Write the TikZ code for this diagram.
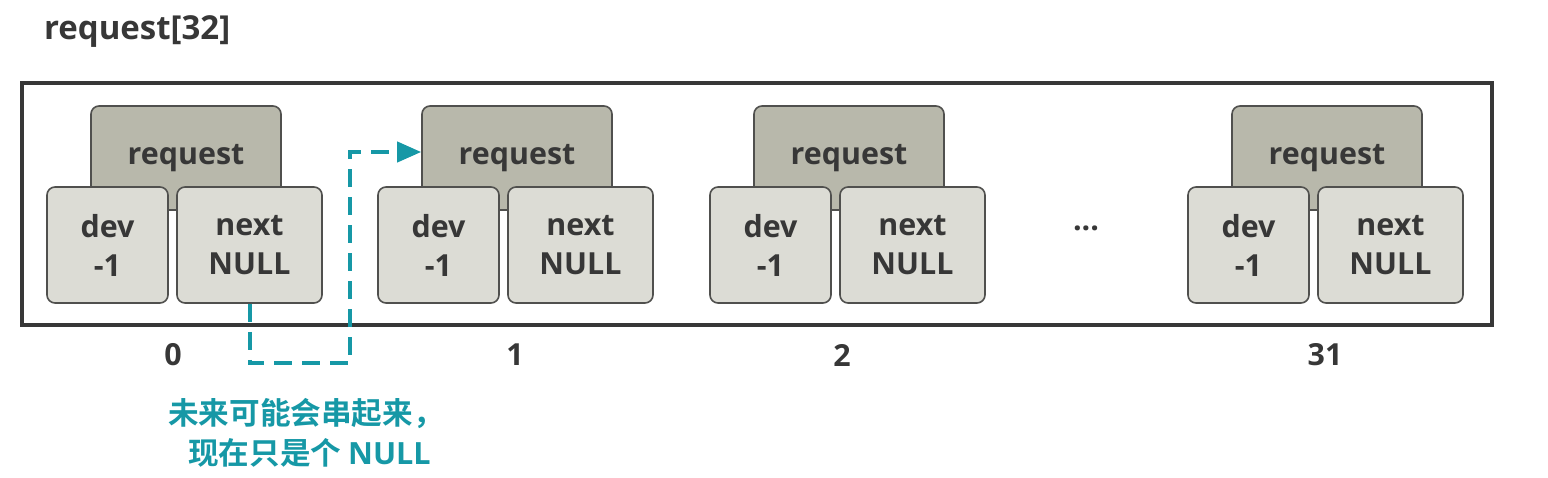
\documentclass[tikz,border=0pt]{standalone}
\usepackage{fontspec}
\setmainfont{Open Sans}[BoldFont={* Bold}]
\newfontfamily\cjkfont{Noto Sans CJK SC}[BoldFont={* Bold}]
\usepackage{xcolor}
\usetikzlibrary{arrows.meta,positioning,calc}

\definecolor{headfill}{RGB}{184,184,171}
\definecolor{cellfill}{RGB}{220,220,213}
\definecolor{edgegray}{RGB}{80,80,78}
\definecolor{inkgray}{RGB}{55,55,55}
\definecolor{teal}{RGB}{22,152,166}

\begin{document}
\begin{tikzpicture}[
    x=0.5pt, y=-0.5pt,
    font=\bfseries\fontsize{15.2}{19.5}\selectfont,
    frame/.style={rectangle, draw=inkgray, line width=2pt, minimum width=735pt, minimum height=121pt, inner sep=0pt},
    head/.style={rectangle, rounded corners=4pt, draw=edgegray, fill=headfill, line width=0.8pt, minimum width=95pt, minimum height=52pt, text=inkgray},
    devcell/.style={rectangle, rounded corners=4pt, draw=edgegray, fill=cellfill, line width=0.8pt, minimum width=60.5pt, minimum height=58pt, align=center, text=inkgray},
    nextcell/.style={devcell, minimum width=72.5pt},
    index/.style={text=inkgray},
    link/.style={-{Triangle[length=12pt,width=10pt]}, draw=teal, line width=2pt, dash pattern=on 9pt off 5pt}
]
\useasboundingbox (0,0) rectangle (1548,477);

\node[anchor=west, text=inkgray, font=\bfseries\fontsize{16.5}{20}\selectfont] (title) at (37,32) {request[32]};

% Array frame
\node[frame] (array) at (757,204) {};

% Element 0
\node[head] (req0) at (186,158) {request};
\node[devcell] (dev0) at (107.5,245) {dev\\-1};
\node[nextcell] (next0) at (249.5,245) {next\\NULL};

% Element 1
\node[head] (req1) at (517,158) {request};
\node[devcell] (dev1) at (438.5,245) {dev\\-1};
\node[nextcell] (next1) at (580.5,245) {next\\NULL};

% Element 2
\node[head] (req2) at (849,158) {request};
\node[devcell] (dev2) at (770.5,245) {dev\\-1};
\node[nextcell] (next2) at (912.5,245) {next\\NULL};

\node[text=inkgray] (dots) at (1086,228) {...};

% Element 31
\node[head] (req31) at (1327,158) {request};
\node[devcell] (dev31) at (1248.5,245) {dev\\-1};
\node[nextcell] (next31) at (1390.5,245) {next\\NULL};

% Indices
\node[index] (idx0) at (173,355) {0};
\node[index] (idx1) at (515,355) {1};
\node[index] (idx2) at (842,355) {2};
\node[index] (idx31) at (1325,355) {31};

% Future link
\coordinate (turn) at (350,363);
\coordinate (bend) at (350,152);
\draw[link] (next0.south) |- (turn) -- (bend) -- (req1.west |- bend);

\node[text=teal, align=center, font=\bfseries\fontsize{15.3}{20}\selectfont] (note) at (306,433) {\cjkfont\bfseries 未来可能会串起来，\\ \cjkfont\bfseries\ 现在只是个 \rmfamily\bfseries NULL};

\end{tikzpicture}
\end{document}
